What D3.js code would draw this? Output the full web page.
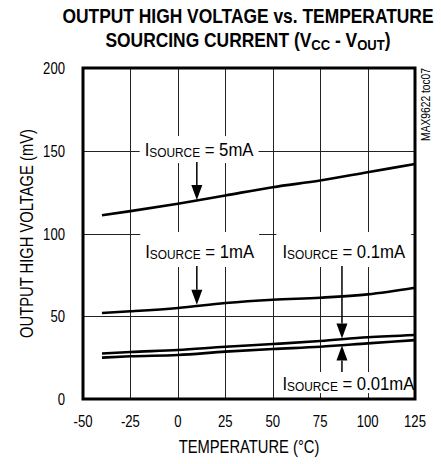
<!DOCTYPE html>
<meta charset="utf-8">
<style>
body { margin: 0; background: #fff; }
text { font-family: "Liberation Sans", Arial, sans-serif; fill: #000; }
.grid line { stroke: #222; stroke-width: 1; shape-rendering: crispEdges; }
.curve { fill: none; stroke: #000; stroke-width: 2.6; }
</style>
<script src="https://d3js.org/d3.v7.min.js"></script>
<body>
<div id="chart"></div>
<script>
// temperatures (deg C) and output high voltage (mV) for each sourcing current
var temps = [-40, -25, 0, 25, 50, 75, 100, 125];
var src5mA = [111, 113.5, 118, 123, 128, 132, 137, 142];
var src1mA = [52, 53, 55, 58, 60, 61.2, 63.2, 67.2];
var src01mA = [27.5, 28.4, 29.6, 31.6, 33.2, 35, 37.3, 38.7];
var src001mA = [25, 25.8, 26.6, 28.6, 30.2, 31.6, 33.6, 35.6];
var xTicks = [-50, -25, 0, 25, 50, 75, 100, 125];
var yTicks = [0, 50, 100, 150, 200];

// labels: current text, temp at text start, mV at baseline
var labels = [
  {cur: "5mA", t: -17.5, v: 146.8, pad: [6, 7, 5]},
  {cur: "1mA", t: -17.2, v: 85.2, pad: [12, 9, 5]},
  {cur: "0.1mA", t: 55.1, v: 85.2, pad: [12, 9, 6]},
  {cur: "0.01mA", t: 55.1, v: 5.4, pad: [4, 3, 6]}
];
// arrows: temp, mV start, mV tip
var arrows = [
  {t: 10, from: 143.2, to: 120.3},
  {t: 10, from: 80.4, to: 57},
  {t: 86.5, from: 80.4, to: 36.6},
  {t: 86.5, from: 16.3, to: 32.4}
];

var SX = 0.82; // condensed look
var margin = {top: 68, right: 26, bottom: 65, left: 83},
    width = 441 - margin.left - margin.right,
    height = 464 - margin.top - margin.bottom;

var svg = d3.select("#chart").append("svg")
    .attr("width", 441).attr("height", 464);
var g = svg.append("g")
    .attr("transform", "translate(" + margin.left + "," + margin.top + ")");

function narrow(parent, px, py, rot, sx) {
  return parent.append("text")
    .attr("transform", "translate(" + px + "," + py + ")" + (rot ? " rotate(" + rot + ")" : "") + " scale(" + (sx || SX) + ",1)");
}

var x = d3.scaleLinear().domain([-50, 125]).range([0, width]);
var y = d3.scaleLinear().domain([0, 200]).range([height, 0]);

// grid
var grid = g.append("g").attr("class", "grid");
grid.selectAll(".vx").data(xTicks.slice(1, -1)).enter().append("line")
  .attr("x1", function(d) { return Math.round(x(d)) + 0.5; })
  .attr("x2", function(d) { return Math.round(x(d)) + 0.5; })
  .attr("y1", 0).attr("y2", height);
grid.selectAll(".hy").data(yTicks.slice(1, -1)).enter().append("line")
  .attr("y1", function(d) { return Math.round(y(d)) + 0.5; })
  .attr("y2", function(d) { return Math.round(y(d)) + 0.5; })
  .attr("x1", 0).attr("x2", width);

// labels with white boxes that cut the grid
var LSX = 0.88;
labels.forEach(function(l) {
  var lg = g.append("g");
  var box = lg.append("rect").attr("fill", "#fff");
  var t = narrow(lg, x(l.t), y(l.v), 0, LSX).style("font-size", "19px");
  t.append("tspan").text("I");
  t.append("tspan").text("SOURCE").style("font-size", "13.5px").attr("dy", 1);
  t.append("tspan").text(" = " + l.cur).attr("dy", -1);
  var w = t.node().getBBox().width * LSX;
  box.attr("x", x(l.t) - l.pad[2]).attr("width", w + 2 * l.pad[2])
     .attr("y", y(l.v) - 14 - l.pad[0]).attr("height", 14 + l.pad[0] + l.pad[1]);
});

// curves
var line = d3.line()
  .x(function(d) { return x(d[0]); })
  .y(function(d) { return y(d[1]); })
  .curve(d3.curveMonotoneX);
[src5mA, src1mA, src01mA, src001mA].forEach(function(s) {
  g.append("path").attr("class", "curve")
    .attr("d", line(temps.map(function(t, i) { return [t, s[i]]; })));
});

// arrows
arrows.forEach(function(a) {
  var ax = x(a.t), y0 = y(a.from), y1 = y(a.to);
  var dir = y1 > y0 ? 1 : -1, hl = 15, hw = 5.5;
  g.append("line").attr("x1", ax).attr("x2", ax)
    .attr("y1", y0).attr("y2", y1 - dir * hl)
    .attr("stroke", "#000").attr("stroke-width", 1.5);
  g.append("path").attr("fill", "#000")
    .attr("d", "M" + ax + "," + y1 + "L" + (ax - hw) + "," + (y1 - dir * hl) +
               "L" + (ax + hw) + "," + (y1 - dir * hl) + "Z");
});

// frame
g.append("rect").attr("width", width).attr("height", height)
  .attr("fill", "none").attr("stroke", "#000").attr("stroke-width", 3);

// tick labels
xTicks.forEach(function(d) {
  narrow(g, x(d), height + 28).attr("text-anchor", "middle")
    .style("font-size", "16px").text(d);
});
yTicks.forEach(function(d) {
  narrow(g, -18, y(d) + 6).attr("text-anchor", "end")
    .style("font-size", "16px").text(d);
});

// axis titles
narrow(g, width / 2, height + 54).attr("text-anchor", "middle")
  .style("font-size", "18px").text("TEMPERATURE (°C)");
narrow(g, -50, height / 2, -90).attr("text-anchor", "middle")
  .style("font-size", "18px").text("OUTPUT HIGH VOLTAGE (mV)");

// title
var cx = margin.left + width / 2 - 1, TSX = 0.87;
narrow(svg, cx, 23, 0, TSX).attr("text-anchor", "middle")
  .style("font-size", "20px").style("font-weight", "bold")
  .text("OUTPUT HIGH VOLTAGE vs. TEMPERATURE");
var t2 = narrow(svg, cx, 47, 0, TSX).attr("text-anchor", "middle")
  .style("font-size", "20px").style("font-weight", "bold");
t2.append("tspan").text("SOURCING CURRENT (V");
t2.append("tspan").text("CC").style("font-size", "15px").attr("dy", 3);
t2.append("tspan").text(" - V").attr("dy", -3);
t2.append("tspan").text("OUT").style("font-size", "15px").attr("dy", 3);
t2.append("tspan").text(")").attr("dy", -3);

// side note
narrow(svg, 430, margin.top, -90).attr("text-anchor", "end")
  .style("font-size", "12.5px").text("MAX9622 toc07");
</script>
</body>
